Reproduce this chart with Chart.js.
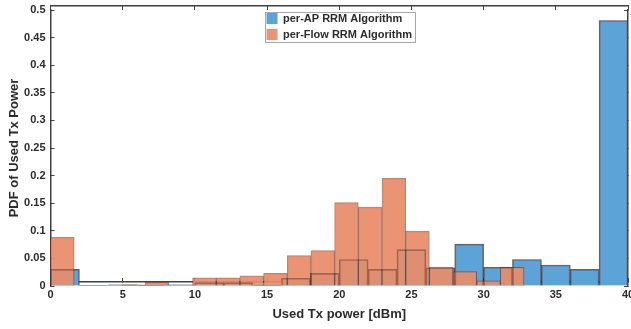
<!DOCTYPE html>
<html>
<head>
<meta charset="utf-8">
<script src="https://cdn.jsdelivr.net/npm/chart.js@4/dist/chart.umd.min.js"></script>
<style>
  html, body { margin: 0; padding: 0; background: #fff; }
  #wrap { width: 631px; height: 329px; position: relative; }
</style>
</head>
<body>
<div id="wrap"><canvas id="pdfChart"></canvas></div>
<script>
// bin centres (2 dBm bins for per-AP, 1.64 dBm bins for per-Flow)
const apBinCenters = [1, 3, 5, 7, 9, 11, 13, 15, 17, 19, 21, 23, 25, 27, 29, 31, 33, 35, 37, 39];
const apPdf = [0.030, 0.0005, 0.002, 0.0005, 0.002, 0.006, 0.006, 0.0005, 0.014, 0.023,
               0.048, 0.030, 0.066, 0.033, 0.076, 0.034, 0.048, 0.038, 0.030, 0.481];

const flowBinCenters = [0.82, 2.46, 4.10, 5.74, 7.38, 9.02, 10.66, 12.30, 13.94, 15.58,
                        17.22, 18.86, 20.50, 22.14, 23.78, 25.42, 27.06, 28.70, 30.34, 31.98];
const flowPdf = [0.088, 0, 0, 0.002, 0.0065, 0, 0.015, 0.015, 0.0185, 0.023,
                 0.055, 0.064, 0.151, 0.143, 0.195, 0.0995, 0.0345, 0.026, 0.0095, 0.034];

const xTicks = [0, 5, 10, 15, 20, 25, 30, 35, 40];
const yTicks = [0, 0.05, 0.1, 0.15, 0.2, 0.25, 0.3, 0.35, 0.4, 0.45, 0.5];

const FONT = "'Liberation Sans', Arial, Helvetica, sans-serif";
const AXIS = '#404040';
const TXT = '#2b2b2b';

const toPoints = (xs, ys) => xs.map((x, i) => ({ x: x, y: ys[i] }));

// puts the legend inside the plot, top centre, and draws its frame
const legendInside = {
  id: 'legendInside',
  afterLayout(chart) {
    const lg = chart.legend;
    const area = chart.chartArea;
    if (!lg || !lg.legendHitBoxes) return;
    const pad = lg.options.labels.padding;
    const itemW = Math.max(...lg.legendHitBoxes.map(b => b.width));
    const w = lg.width, h = lg.height;
    lg.left = (area.left + area.right) / 2 - itemW / 2 - pad;
    lg.right = lg.left + w;
    lg.top = area.top - 2;
    lg.bottom = lg.top + h;
  },
  afterDraw(chart) {
    const boxes = chart.legend && chart.legend.legendHitBoxes;
    if (!boxes || !boxes.length) return;
    const l = Math.min(...boxes.map(b => b.left)) - 2;
    const t = Math.min(...boxes.map(b => b.top)) - 1;
    const r = Math.max(...boxes.map(b => b.left + b.width)) + 3;
    const btm = Math.max(...boxes.map(b => b.top + b.height)) + 2;
    const ctx = chart.ctx;
    ctx.save();
    ctx.strokeStyle = '#a8a8a8';
    ctx.lineWidth = 1;
    ctx.strokeRect(Math.round(l) + 0.5, Math.round(t) + 0.5, Math.round(r - l), Math.round(btm - t));
    ctx.restore();
  }
};

const tickFmt = v => String(Math.round(v * 100) / 100);
const noVertPad = s => { s.paddingTop = 0; s.paddingBottom = 0; };

new Chart(document.getElementById('pdfChart'), {
  type: 'bar',
  data: {
    datasets: [
      {
        label: 'per-AP RRM Algorithm',
        data: toPoints(apBinCenters, apPdf),
        xAxisID: 'x',
        backgroundColor: '#5CA3D8',
        borderColor: 'rgba(40,50,60,0.6)',
        borderWidth: 1,
        order: 2
      },
      {
        label: 'per-Flow RRM Algorithm',
        data: toPoints(flowBinCenters, flowPdf),
        xAxisID: 'xFlow',
        backgroundColor: 'rgba(232,140,104,0.93)',
        borderColor: 'rgba(90,45,30,0.55)',
        borderWidth: 1,
        order: 1
      },
      {
        // per-AP edges seen through the orange bars
        label: 'apEdges',
        data: toPoints(apBinCenters, apPdf),
        xAxisID: 'x',
        backgroundColor: 'rgba(0,0,0,0)',
        borderColor: 'rgba(80,40,30,0.4)',
        borderWidth: 1,
        order: 0
      }
    ]
  },
  options: {
    responsive: true,
    maintainAspectRatio: false,
    animation: false,
    grouped: false,
    barPercentage: 1,
    categoryPercentage: 1,
    layout: { padding: { left: 3, right: 3, top: 10, bottom: 1.7 } },
    plugins: {
      tooltip: { enabled: false },
      legend: {
        position: 'chartArea',
        align: 'start',
        labels: {
          boxWidth: 11,
          boxHeight: 11,
          padding: 5,
          color: TXT,
          font: { family: FONT, size: 11, weight: 'bold' },
          filter: item => item.text !== 'apEdges',
          sort: (a, b) => a.datasetIndex - b.datasetIndex,
          generateLabels(chart) {
            const items = Chart.defaults.plugins.legend.labels.generateLabels(chart);
            items.forEach(it => { it.lineWidth = 0; });
            return items;
          }
        }
      }
    },
    scales: {
      x: {
        type: 'linear',
        position: 'bottom',
        offset: false,
        min: 0,
        max: 40,
        afterBuildTicks: s => { s.ticks = xTicks.map(v => ({ value: v })); },
        afterFit: s => { s.paddingRight = 0; },
        ticks: {
          color: TXT,
          padding: 10,
          maxRotation: 0,
          font: { family: FONT, size: 11, weight: 'bold' }
        },
        grid: { drawOnChartArea: false, tickLength: -4, color: AXIS, offset: false },
        border: { color: AXIS, width: 1.5 },
        title: {
          display: true,
          text: 'Used Tx power [dBm]',
          color: TXT,
          padding: { top: -4.5, bottom: 1 },
          font: { family: FONT, size: 13, weight: 'bold' }
        }
      },
      xFlow: {
        type: 'linear',
        position: 'top',
        offset: false,
        min: 0,
        max: 40,
        afterBuildTicks: s => { s.ticks = xTicks.map(v => ({ value: v })); },
        ticks: { display: false },
        grid: { drawOnChartArea: false, tickLength: -4, color: AXIS, offset: false },
        border: { color: AXIS, width: 1.5 }
      },
      y: {
        type: 'linear',
        position: 'left',
        min: 0,
        max: 0.5,
        afterBuildTicks: s => { s.ticks = yTicks.map(v => ({ value: v })); },
        afterFit: noVertPad,
        ticks: {
          color: TXT,
          padding: 9,
          callback: tickFmt,
          font: { family: FONT, size: 11, weight: 'bold' }
        },
        grid: { drawOnChartArea: false, tickLength: -4, color: AXIS },
        border: { color: AXIS, width: 1.5 },
        title: {
          display: true,
          text: 'PDF of Used Tx Power',
          color: TXT,
          padding: { top: 3.5, bottom: -7 },
          font: { family: FONT, size: 13, weight: 'bold' }
        }
      },
      yRight: {
        type: 'linear',
        position: 'right',
        min: 0,
        max: 0.5,
        afterBuildTicks: s => { s.ticks = yTicks.map(v => ({ value: v })); },
        afterFit: noVertPad,
        ticks: { display: false },
        grid: { drawOnChartArea: false, tickLength: -4, color: AXIS },
        border: { color: AXIS, width: 1.5 }
      }
    }
  },
  plugins: [legendInside]
});
</script>
</body>
</html>
